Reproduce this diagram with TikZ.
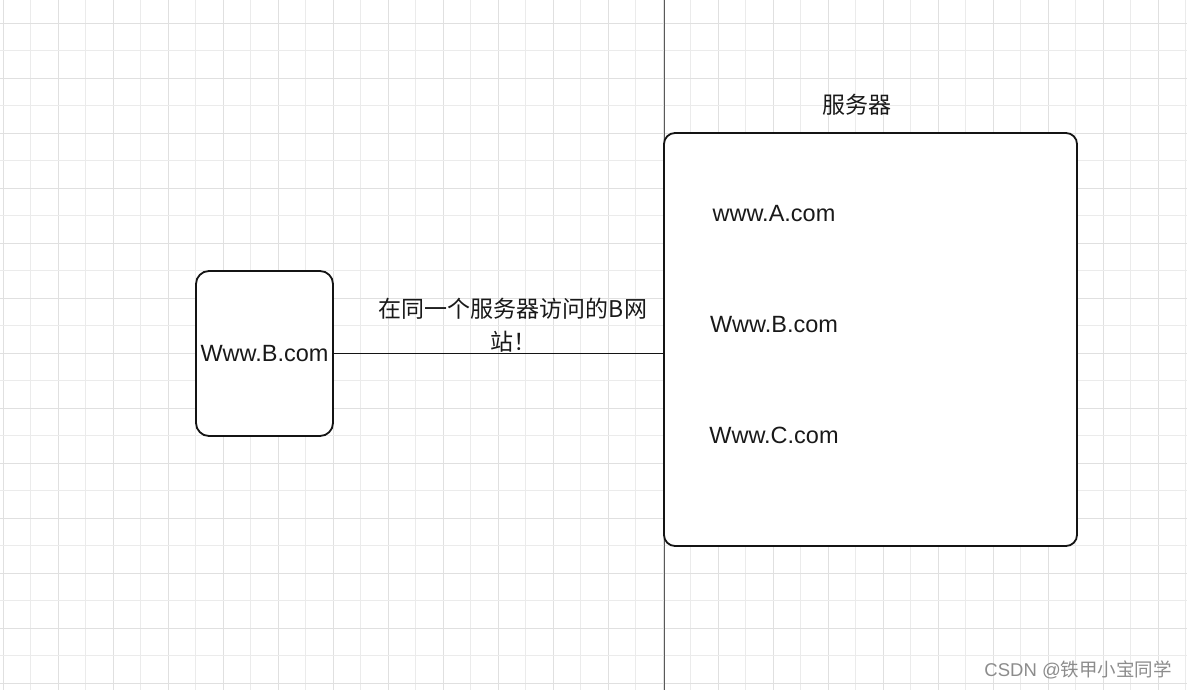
\documentclass[tikz,border=0pt]{standalone}
\usepackage{fontspec}
\setmainfont{Liberation Sans}
\newfontfamily\cjk{Noto Sans CJK SC}
\begin{document}
\begin{tikzpicture}[x=1pt,y=-1pt,
  minorgrid/.style={draw=black!8,line width=1pt},
  majorgrid/.style={draw=black!12,line width=1pt},
  box/.style={draw=black!92,line width=1.8pt,rounded corners=11pt,fill=white,inner sep=0pt},
  lbl/.style={font=\fontsize{23.5}{33}\selectfont,text=black!90,inner sep=0pt},
  cjklbl/.style={font=\cjk\fontsize{23}{33}\selectfont,text=black!90,inner sep=0pt},
  conn/.style={draw=black!92,line width=1.8pt}]
\fill[white] (0,0) rectangle (1187,690);
\useasboundingbox (0,0) rectangle (1187,690);
\foreach \i in {0,...,43}{
  \pgfmathsetmacro{\xx}{3+27.5*\i}
  \ifodd\i
    \draw[minorgrid] (\xx,0) -- (\xx,690);
  \else
    \draw[majorgrid] (\xx,0) -- (\xx,690);
  \fi
}
\foreach \i in {0,...,24}{
  \pgfmathsetmacro{\yy}{23.3+27.5*\i}
  \ifodd\i
    \draw[minorgrid] (0,\yy) -- (1187,\yy);
  \else
    \draw[majorgrid] (0,\yy) -- (1187,\yy);
  \fi
}
\coordinate (septop) at (664,0);
\coordinate (sepbot) at (664,690);
\draw[black!65,line width=1pt] (septop) -- (sepbot);
\node[box,minimum width=413pt,minimum height=413pt] (server) at (870.5,339.5) {};
\node[box,rounded corners=13pt,minimum width=137pt,minimum height=165pt,lbl] (left) at (264.5,353.5) {Www.B.com};
\node[cjklbl] (srvlbl) at (857,105) {服务器};
\node[lbl] (a) at (774,214) {www.A.com};
\node[lbl] (b) at (774,325) {Www.B.com};
\node[lbl] (c) at (774,435) {Www.C.com};
\coordinate (serverw) at (server.west |- left.east);
\draw[conn] (left.east) -- (serverw);
\node[cjklbl,align=center] (edgelbl) at (513,325) {在同一个服务器访问的B网\\站！};
\node[inner sep=0pt,text=black!45,font=\fontsize{18.5}{20}\selectfont,anchor=east] (wm) at (1172,670) {CSDN @{\cjk 铁甲小宝同学}};
\end{tikzpicture}
\end{document}
